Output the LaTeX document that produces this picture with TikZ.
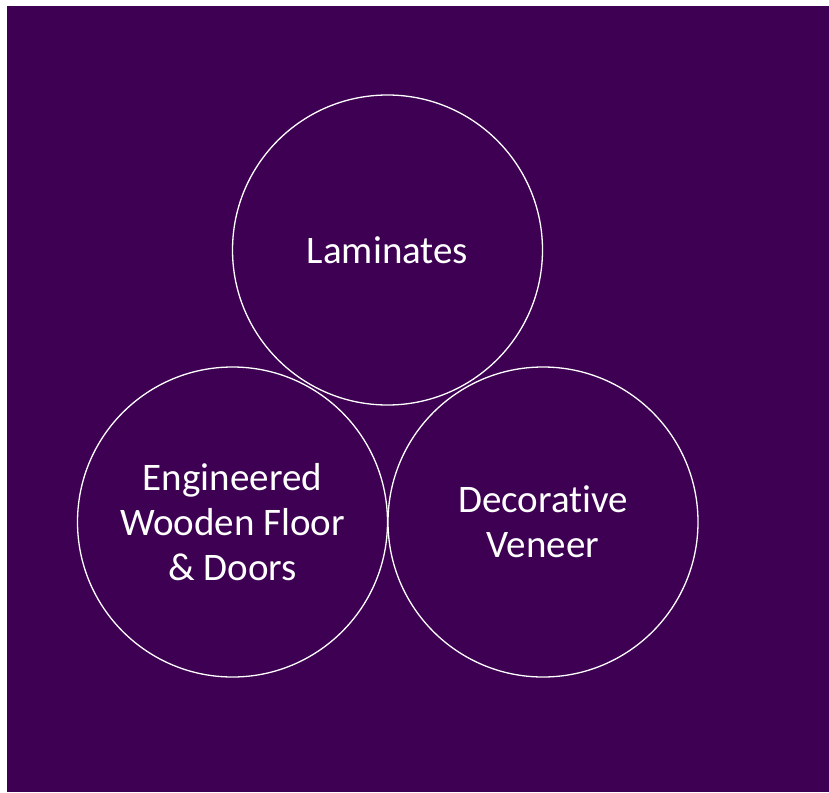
\documentclass[tikz,border=0pt]{standalone}
\usepackage{fontspec}
\setmainfont[Ligatures=NoCommon]{Carlito}
\definecolor{bgpurple}{RGB}{61,0,82}
\begin{document}
\begin{tikzpicture}[x=1pt,y=-1pt,
  ring/.style={circle,draw=white,line width=1.3pt,minimum size=310pt,inner sep=0pt,
    text=white,align=center,font=\fontsize{39}{45}\selectfont}]
\useasboundingbox (0,0) rectangle (829,792);
\fill[white] (0,0) rectangle (829,792);
\fill[bgpurple] (7,6) rectangle (829,792);
\node[ring] (lam) at (387.5,250) {Laminates};
\node[ring] (eng) at (232.5,522) {Engineered\\Wooden Floor\\\& Doors};
\node[ring] (dec) at (543,522) {Decorative\\Veneer};
\end{tikzpicture}
\end{document}
